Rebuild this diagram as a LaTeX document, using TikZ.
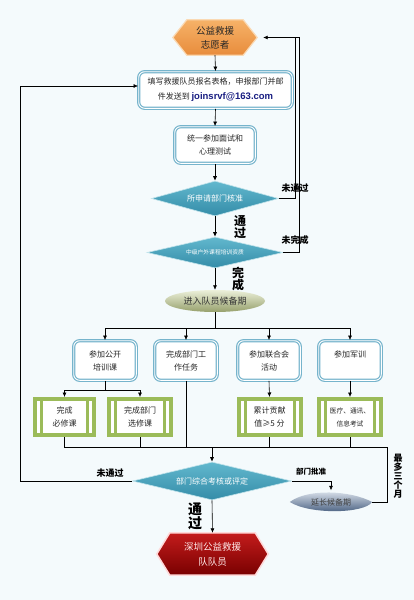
\documentclass[tikz,border=0pt]{standalone}
\usepackage{fontspec}
\setmainfont{Noto Sans CJK SC}
\newfontfamily\lat{Liberation Sans}
\usetikzlibrary{shapes.geometric,arrows.meta}
\pgfdeclarelayer{bg}
\pgfsetlayers{bg,main}
\definecolor{bgc}{RGB}{244,250,252}
\definecolor{boxblue}{RGB}{118,180,204}
\definecolor{tealA}{RGB}{98,184,206}
\definecolor{tealB}{RGB}{52,140,168}
\definecolor{grn}{RGB}{155,187,89}
\definecolor{orgA}{RGB}{246,178,104}
\definecolor{orgB}{RGB}{232,140,60}
\definecolor{navy}{RGB}{25,30,130}
\definecolor{redA}{RGB}{196,28,28}
\definecolor{redB}{RGB}{120,0,0}
\definecolor{oliveA}{RGB}{236,240,218}
\definecolor{oliveB}{RGB}{150,160,108}
\definecolor{slateA}{RGB}{236,242,248}
\definecolor{slateB}{RGB}{58,82,118}
\tikzset{
  every node/.style={inner sep=0pt, align=center},
  conn/.style={line width=0.6pt, draw=black},
  arr/.style={conn, -{Latex[length=4.5pt,width=4pt]}},
  bluebox/.style={rectangle, rounded corners=6pt, draw=boxblue, line width=1.2pt,
    double=white, double distance=0.9pt, fill=white, text=black!85,
    font=\fontsize{8}{13}\selectfont},
  greenbox/.style={rectangle, draw=grn, line width=4pt, fill=white, text=black!85,
    minimum width=62pt, minimum height=36pt, font=\fontsize{8}{13}\selectfont,
    path picture={
      \fill[grn] ([xshift=5pt]path picture bounding box.north west) rectangle ([xshift=8pt]path picture bounding box.south west);
      \fill[grn] ([xshift=-5pt]path picture bounding box.north east) rectangle ([xshift=-8pt]path picture bounding box.south east);
    }},
  dia/.style={diamond, top color=tealA, bottom color=tealB, draw=white!60!tealA,
    line width=0.6pt, text=white},
  lbl/.style={font=\bfseries\fontsize{9}{10}\selectfont, text=black},
  vlbl/.style={font=\bfseries\fontsize{12}{11.5}\selectfont, text=black},
  hexorange/.style={top color=orgA, bottom color=orgB, draw=orgA!50!white, line width=1.2pt},
  hexred/.style={top color=redA, bottom color=redB, draw=white!85!red, line width=1.5pt},
}
\begin{document}
\begin{tikzpicture}[x=1pt,y=-1pt]
\begin{pgfonlayer}{bg}
\fill[bgc] (0,0) rectangle (414,600);
\end{pgfonlayer}
\useasboundingbox (0,0) rectangle (414,600);

% top hexagon
\node[minimum width=84pt, minimum height=35pt, font=\fontsize{9.5}{14}\selectfont, text=black!85] (h1) at (215,37.5) {公益救援\\志愿者};
\begin{pgfonlayer}{bg}
\path[hexorange] (h1.west) -- ([xshift=14pt]h1.north west) -- ([xshift=-14pt]h1.north east) -- (h1.east) -- ([xshift=-14pt]h1.south east) -- ([xshift=14pt]h1.south west) -- cycle;
\end{pgfonlayer}

\node[bluebox, minimum width=153.6pt, minimum height=36.6pt, font=\fontsize{8}{15}\selectfont] (b1) at (215.5,90)
  {填写救援队员报名表格，申报部门并邮\\件发送到 {\lat\bfseries\fontsize{9.5}{15}\selectfont\color{navy}joinsrvf@163.com}};
\node[bluebox, minimum width=80.6pt, minimum height=36.6pt] (b2) at (215,145) {统一参加面试和\\心理测试};
\node[dia, aspect=3.63, minimum width=127pt, minimum height=35pt, font=\fontsize{8}{10}\selectfont] (d1) at (215,198.5) {所申请部门核准};
\node[dia, aspect=4.39, minimum width=136pt, minimum height=31pt, font=\fontsize{5.8}{7}\selectfont] (d2) at (215,252.5) {中级户外课程培训资质};
\node[ellipse, minimum width=100pt, minimum height=22pt, top color=oliveA, bottom color=oliveB,
  font=\fontsize{9}{10}\selectfont, text=black!80] (e1) at (215,301) {进入队员候备期};

% four boxes
\node[bluebox, minimum width=62.6pt, minimum height=39.6pt] (pa) at (105,360.5) {参加公开\\培训课};
\node[bluebox, minimum width=62.6pt, minimum height=39.6pt] (pb) at (186,360.5) {完成部门工\\作任务};
\node[bluebox, minimum width=62.6pt, minimum height=39.6pt] (pc) at (269,360.5) {参加联合会\\活动};
\node[bluebox, minimum width=62.6pt, minimum height=39.6pt] (pd) at (350,360.5) {参加军训\\\mbox{}};

% green boxes
\node[greenbox, minimum width=59pt] (ga) at (64.5,417) {完成\\必修课};
\node[greenbox] (gb) at (140,417) {完成部门\\选修课};
\node[greenbox] (gc) at (269.5,417) {累计贡献\\值≥5 分};
\node[greenbox, font=\fontsize{6.7}{13}\selectfont] (gd) at (350,417) {医疗、通讯、\\信息考试};

\node[dia, aspect=4.18, minimum width=159pt, minimum height=38pt, font=\fontsize{8}{10}\selectfont] (d3) at (212,481) {部门综合考核或评定};

% extension ellipse (lens)
\node[minimum width=82pt, minimum height=23pt, font=\fontsize{8}{10}\selectfont, text=black!75] (e2) at (331,502) {延长候备期};
\begin{pgfonlayer}{bg}
\shade[top color=slateA, bottom color=slateB] (e2.west) .. controls ([xshift=18pt,yshift=2pt]e2.north west) and ([xshift=-22pt]e2.north east) .. (e2.east) .. controls ([xshift=-8pt]e2.south east) and ([xshift=20pt,yshift=-1pt]e2.south west) .. (e2.west) -- cycle;
\end{pgfonlayer}

% red hexagon
\node[minimum width=111pt, minimum height=42pt, font=\fontsize{9.5}{15}\selectfont, text=red!8!white] (h2) at (212.5,554) {深圳公益救援\\队队员};
\begin{pgfonlayer}{bg}
\path[hexred] (h2.west) -- ([xshift=13pt]h2.north west) -- ([xshift=-13pt]h2.north east) -- (h2.east) -- ([xshift=-13pt]h2.south east) -- ([xshift=13pt]h2.south west) -- cycle;
\end{pgfonlayer}

% labels
\node[lbl] (l1) at (295,188) {未通过};
\node[lbl] (l2) at (295,240.5) {未完成};
\node[vlbl] (l3) at (240,227) {通\\过};
\node[vlbl] (l4) at (238,279) {完\\成};
\node[lbl] (l5) at (110,473.5) {未通过};
\node[lbl, font=\bfseries\fontsize{7.5}{9}\selectfont] (l6) at (311,472) {部门批准};
\node[vlbl, font=\bfseries\fontsize{14}{12}\selectfont] (l7) at (195,516) {通\\过};
\node[lbl, font=\bfseries\fontsize{9}{9}\selectfont] (l8) at (398,476) {最\\多\\三\\个\\月};

% main flow connectors
\draw[arr] (h1.south) -- (b1.north);
\draw[arr] (b1.south) -- (b2.north);
\draw[arr] (b2.south) -- (d1.north);
\draw[arr] (d1.south) -- (d2.north);
\draw[arr] (d2.south) -- (e1.north);

% right loops
\coordinate (r1) at (295,37.5);
\coordinate (r2) at (299,37.5);
\draw[conn] (d1.east) -| (r1);
\draw[arr] (d2.east) -| (r2) -- ([xshift=6pt]h1.east);

% distribution bus
\coordinate (bus) at (215,328);
\draw[conn] (e1.south) -- (bus);
\draw[conn] (pa.north |- bus) -- (pd.north |- bus);
\draw[arr] (pa.north |- bus) -- (pa.north);
\draw[arr] (pb.north |- bus) -- (pb.north);
\draw[arr] (pc.north |- bus) -- (pc.north);
\draw[arr] (pd.north |- bus) -- (pd.north);

\coordinate (abus) at (105,390);
\draw[conn] (pa.south) -- (abus);
\draw[conn] (ga.north |- abus) -- (gb.north |- abus);
\draw[arr] (ga.north |- abus) -- (ga.north);
\draw[arr] (gb.north |- abus) -- (gb.north);
\draw[arr] (pc.south) -- (gc.north);
\draw[arr] (pd.south) -- (gd.north);

% merge bus
\coordinate (ml) at (64.5,447);
\coordinate (mr) at (387,447);
\coordinate (mm) at (212,447);
\draw[conn] (ga.south) -- (ml) -- (mr);
\draw[conn] (gb.south) -- (gb.south |- ml);
\draw[conn] (pb.south) -- (pb.south |- ml);
\draw[conn] (gc.south) -- (gc.south |- ml);
\draw[conn] (gd.south) -- (gd.south |- ml);
\draw[arr] (mm) -- (d3.north);
\draw[conn] (e2.east) -| (mr);

% bottom branches
\coordinate (lft) at (20,481);
\draw[arr] (d3.west) -- (lft) |- ([yshift=4pt]b1.west);
\draw[arr] (d3.east) -| (e2.north);
\draw[arr] (d3.south) -- (h2.north);
\end{tikzpicture}
\end{document}
